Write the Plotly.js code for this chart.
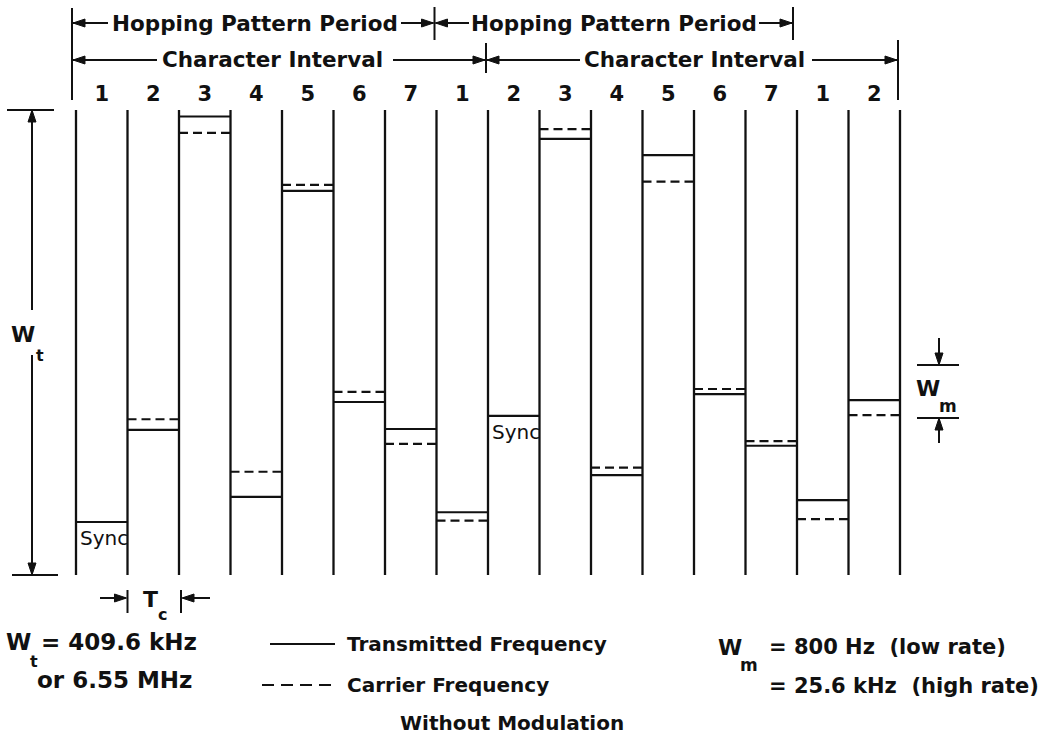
<!DOCTYPE html>
<html><head><meta charset="utf-8">
<script src="https://cdn.plot.ly/plotly-3.0.1.min.js"></script>
<style>html,body{margin:0;padding:0;background:#fff}#chart{width:1041px;height:749px}</style>
</head><body><div id="chart"></div>
<script>
// ---- data (frequency levels in % of Wt) ----
const slotLabels = ['1','2','3','4','5','6','7','1','2','3','4','5','6','7','1','2'];
const transmitted = [11.4, 31.2, 98.6, 16.8, 82.6, 37.2, 31.4, 13.5, 34.2, 93.8, 21.5, 90.3, 38.9, 27.8, 16.1, 37.6];
const carrier     = [null, 33.5, 95.1, 22.2, 83.9, 39.4, 28.2, 11.7, null, 95.9, 23.1, 84.6, 40.0, 28.8, 12.0, 34.4];
const syncSlots = [0, 8];
const periodLabel = 'Hopping Pattern Period';
const charLabel = 'Character Interval';

// ---- geometry ----
const W = 1041, H = 749;
const X0 = 76, SLOT = 51.5, YBOT = 575, YTOP = 110;
const PXU = (YBOT - YTOP) / 100;
const xRange = [-X0 / SLOT, (W - X0) / SLOT];
const yRange = [-(H - YBOT) / PXU, 100 + YTOP / PXU];
const X = p => p / W, Y = p => 1 - p / H;
const INK = '#111';
const FONT = 'DejaVu Sans';

// ---- traces ----
const bx = [], by = [];
for (let i = 0; i <= slotLabels.length; i++) { bx.push(i, i, null); by.push(0, 100, null); }
const tx = [], ty = [], cx = [], cy = [];
transmitted.forEach((v, i) => { tx.push(i, i + 1, null); ty.push(v, v, null); });
carrier.forEach((v, i) => { if (v !== null) { cx.push(i, i + 1, null); cy.push(v, v, null); } });
const labelLevel = (YBOT - 96) / PXU;

const traces = [
  {x: bx, y: by, mode: 'lines', line: {color: INK, width: 2.3}, hoverinfo: 'skip'},
  {x: tx, y: ty, mode: 'lines', line: {color: INK, width: 2.2}, hoverinfo: 'skip'},
  {x: cx, y: cy, mode: 'lines', line: {color: INK, width: 2.2, dash: '9px,5px'}, hoverinfo: 'skip'},
  {x: slotLabels.map((_, i) => i + 0.5), y: slotLabels.map(() => labelLevel), mode: 'text',
   text: slotLabels, textfont: {family: FONT, size: 21, color: INK, weight: 'bold'}, hoverinfo: 'skip'}
];

// ---- decorations ----
const shapes = [];
function seg(x0, y0, x1, y1, extra) {
  shapes.push(Object.assign({type: 'line', xref: 'paper', yref: 'paper', x0: X(x0), y0: Y(y0), x1: X(x1), y1: Y(y1),
    line: {color: INK, width: 2}}, extra || {}));
}
function head(x, y, dir) {
  const L = 12, w = 4;
  let pts;
  if (dir === 'left') pts = [[x, y], [x + L, y - w], [x + L, y + w]];
  else if (dir === 'right') pts = [[x, y], [x - L, y - w], [x - L, y + w]];
  else if (dir === 'up') pts = [[x, y], [x - w, y + L], [x + w, y + L]];
  else pts = [[x, y], [x - w, y - L], [x + w, y - L]];
  const d = 'M' + pts.map(p => X(p[0]).toFixed(5) + ',' + Y(p[1]).toFixed(5)).join('L') + 'Z';
  shapes.push({type: 'path', xref: 'paper', yref: 'paper', path: d, fillcolor: INK, line: {color: INK, width: 1}});
}
const bpx = i => X0 + SLOT * i - 2;

// bracket bars
seg(bpx(0) - 2, 8, bpx(0) - 2, 100);
seg(bpx(7), 7, bpx(7), 40);
seg(bpx(14) - 2, 7, bpx(14) - 2, 40);
seg(bpx(8), 43, bpx(8), 73);
seg(bpx(16), 40, bpx(16), 100);

// Hopping pattern period row (y=23)
seg(bpx(0) - 1, 23, 108, 23); head(bpx(0) - 1, 23, 'left');
seg(401, 23, bpx(7) - 1, 23); head(bpx(7) - 1, 23, 'right');
seg(bpx(7) + 1, 23, 469, 23); head(bpx(7) + 1, 23, 'left');
seg(759, 23, bpx(14) - 3, 23); head(bpx(14) - 3, 23, 'right');
// Character interval row (y=60)
seg(bpx(0) - 1, 60, 157, 60); head(bpx(0) - 1, 60, 'left');
seg(393, 60, bpx(8) - 1, 60); head(bpx(8) - 1, 60, 'right');
seg(bpx(8) + 1, 60, 580, 60); head(bpx(8) + 1, 60, 'left');
seg(812, 60, bpx(16) - 1, 60); head(bpx(16) - 1, 60, 'right');

// Wt dimension
seg(7, YTOP, 54, YTOP); seg(12, YBOT, 58, YBOT);
seg(32, YTOP + 2, 32, 310); head(32, YTOP, 'up');
seg(32, 355, 32, YBOT - 2); head(32, YBOT, 'down');

// Wm dimension
seg(917, 365, 959, 365); seg(917, 418, 959, 418);
seg(939, 338, 939, 363); head(939, 365, 'down');
seg(939, 443, 939, 420); head(939, 418, 'up');

// Tc dimension
seg(bpx(1) + 2, 590, bpx(1) + 2, 613); seg(bpx(2) + 4, 590, bpx(2) + 4, 613);
seg(100, 598, bpx(1), 598); head(bpx(1) + 1, 598, 'right');
seg(210, 598, bpx(2) + 6, 598); head(bpx(2) + 5, 598, 'left');

// legend samples
seg(270, 644, 335, 644);
seg(262, 685, 335, 685, {line: {color: INK, width: 2, dash: '12px,7px'}});

// ---- texts ----
const annotations = [];
function txt(t, x, y, size, opts) {
  opts = opts || {};
  annotations.push({text: t, xref: 'paper', yref: 'paper', x: X(x), y: Y(y), showarrow: false,
    xanchor: opts.xa || 'center', yanchor: 'middle',
    font: {family: FONT, size: size, color: INK, weight: opts.light ? 'normal' : 'bold'}});
}
txt(periodLabel, 255, 23, 21.5);
txt(periodLabel, 614, 23, 21.5);
txt(charLabel, 272, 60, 21.5);
txt(charLabel, 694, 60, 21.5);

txt('W', 23, 334, 22); txt('t', 40, 355, 16);
txt('W', 928, 388, 22); txt('m', 948, 406, 17);
txt('T', 150, 599, 22); txt('c', 162, 614, 16);

txt('W', 18, 642, 23); txt('t', 34, 661, 16);
txt('= 409.6 kHz', 39, 642, 23, {xa: 'left'});
txt('or 6.55 MHz', 35, 680, 23, {xa: 'left'});
txt('Transmitted Frequency', 345, 644, 20, {xa: 'left'});
txt('Carrier Frequency', 345, 685, 20, {xa: 'left'});
txt('Without Modulation', 398, 723, 20, {xa: 'left'});
txt('W', 730, 647, 22); txt('m', 749, 665, 17);
txt('= 800 Hz\u00A0\u00A0(low rate)', 767, 647, 21, {xa: 'left'});
txt('= 25.6 kHz\u00A0\u00A0(high rate)', 767, 686, 21, {xa: 'left'});

// Sync labels, placed under the sync tone of each sync slot
syncSlots.forEach(i => {
  annotations.push({text: 'Sync', xref: 'x', yref: 'y', x: i + 0.03, y: transmitted[i] - 3.4,
    xanchor: 'left', yanchor: 'middle', showarrow: false,
    font: {family: FONT, size: 20, color: INK, weight: 'normal'}});
});

const layout = {
  width: W, height: H, margin: {l: 0, r: 0, t: 0, b: 0},
  paper_bgcolor: '#fff', plot_bgcolor: '#fff', showlegend: false,
  xaxis: {range: xRange, visible: false, fixedrange: true},
  yaxis: {range: yRange, visible: false, fixedrange: true},
  shapes: shapes, annotations: annotations
};
Plotly.newPlot('chart', traces, layout, {staticPlot: true});
</script></body></html>
